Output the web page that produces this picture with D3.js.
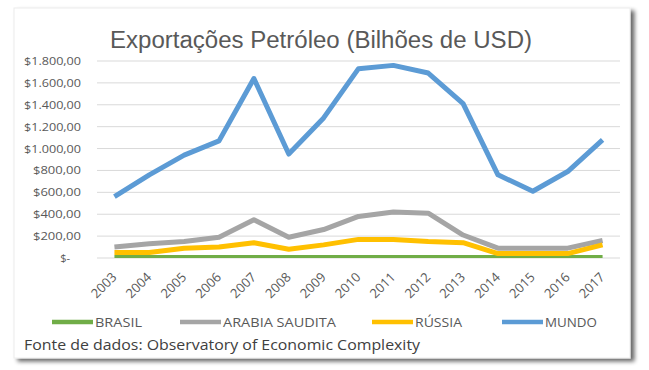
<!DOCTYPE html>
<html>
<head>
<meta charset="utf-8">
<script src="https://cdn.jsdelivr.net/npm/d3@7"></script>
<style>
  body { margin: 0; background: #fff; }
  svg { display: block; }
  text { font-family: "Open Sans", sans-serif; fill: #595959; }
</style>
</head>
<body>
<script>
const anos = ['2003','2004','2005','2006','2007','2008','2009','2010','2011','2012','2013','2014','2015','2016','2017'];
const brasil = [5, 6, 7, 8, 9, 10, 9, 13, 17, 19, 18, 16, 13, 14, 17];
const arabia = [100, 130, 150, 190, 350, 190, 260, 380, 420, 410, 210, 90, 90, 90, 160];
const russia = [50, 50, 90, 100, 140, 80, 120, 170, 170, 150, 140, 40, 40, 40, 120];
const mundo = [560, 760, 940, 1070, 1640, 950, 1280, 1730, 1760, 1690, 1410, 760, 610, 790, 1080];
const yTicks = [0, 200, 400, 600, 800, 1000, 1200, 1400, 1600, 1800];

const series = [
  {nome: 'BRASIL', valores: brasil, cor: '#70ad47'},
  {nome: 'ARABIA SAUDITA', valores: arabia, cor: '#a5a5a5'},
  {nome: 'RÚSSIA', valores: russia, cor: '#ffc000'},
  {nome: 'MUNDO', valores: mundo, cor: '#5b9bd5'}
];

const width = 649, height = 370;
const svg = d3.select('body').append('svg').attr('width', width).attr('height', height);

const defs = svg.append('defs');
const shadow = defs.append('filter').attr('id', 'sombra').attr('x', '-5%').attr('y', '-5%').attr('width', '115%').attr('height', '115%');
shadow.append('feGaussianBlur').attr('in', 'SourceAlpha').attr('stdDeviation', 2);
shadow.append('feOffset').attr('dx', 4).attr('dy', 3).attr('result', 'b');
shadow.append('feComponentTransfer').append('feFuncA').attr('type', 'linear').attr('slope', 0.6);
const m = shadow.append('feMerge');
m.append('feMergeNode');
m.append('feMergeNode').attr('in', 'SourceGraphic');

const soft = defs.append('filter').attr('id', 'suave');
soft.append('feGaussianBlur').attr('stdDeviation', 0.6);

// card
svg.append('rect')
  .attr('x', 14).attr('y', 8).attr('width', 616).attr('height', 350)
  .attr('fill', '#fff').attr('stroke', '#ececec').attr('stroke-width', 1)
  .attr('filter', 'url(#sombra)');

const plot = {left: 97, right: 620, top: 61, bottom: 258};

const x = d3.scaleBand().domain(anos).range([plot.left, plot.right]);
const y = d3.scaleLinear().domain([0, 1800]).range([plot.bottom, plot.top]);

// title
svg.append('text')
  .attr('x', 110).attr('y', 48)
  .style('font-family', '"Liberation Sans", sans-serif')
  .style('font-size', '23px')
  .attr('textLength', 422)
  .attr('lengthAdjust', 'spacingAndGlyphs')
  .text('Exportações Petróleo (Bilhões de USD)');

// grid
svg.append('g').selectAll('line')
  .data(yTicks)
  .join('line')
  .attr('x1', plot.left).attr('x2', plot.right)
  .attr('y1', d => y(d)).attr('y2', d => y(d))
  .attr('stroke', '#d9d9d9').attr('stroke-width', 1);

// y labels
const fmt = v => v === 0 ? '$-' : '$' + d3.format(',.2f')(v).replace(/,/g, 'X').replace('.', ',').replace(/X/g, '.');
const yl = svg.append('g').selectAll('text')
  .data(yTicks)
  .join('text')
  .attr('x', d => d === 0 ? 70 : 81)
  .attr('y', d => y(d) + 4)
  .attr('text-anchor', 'end')
  .style('font-size', '11px')
  .text(fmt);
yl.filter(d => d >= 1000).attr('textLength', 57).attr('lengthAdjust', 'spacingAndGlyphs');
yl.filter(d => d > 0 && d < 1000).attr('textLength', 48).attr('lengthAdjust', 'spacingAndGlyphs');

// x labels
svg.append('g').selectAll('text')
  .data(anos)
  .join('text')
  .attr('text-anchor', 'end')
  .attr('transform', d => 'translate(' + (x(d) + x.bandwidth() / 2 + 3) + ',278) rotate(-45)')
  .style('font-size', '13px')
  .text(d => d);

// lines
const line = d3.line()
  .x((d, i) => x(anos[i]) + x.bandwidth() / 2)
  .y(d => y(d));

svg.append('g').selectAll('path')
  .data(series)
  .join('path')
  .attr('d', s => line(s.valores))
  .attr('fill', 'none')
  .attr('stroke', s => s.cor)
  .attr('stroke-width', 5)
  .attr('stroke-linejoin', 'round')
  .attr('filter', 'url(#suave)');

// legend
const legX = [52, 180, 372, 502];
const legW = [47, 113, 47, 52];
const leg = svg.append('g').selectAll('g')
  .data(series)
  .join('g')
  .attr('transform', (s, i) => 'translate(' + legX[i] + ',322)');
leg.append('line')
  .attr('x1', 0).attr('x2', 41).attr('y1', 0).attr('y2', 0)
  .attr('stroke', s => s.cor).attr('stroke-width', 4.5);
leg.append('text')
  .attr('x', 43).attr('y', 5)
  .style('font-size', '13px')
  .attr('textLength', (s, i) => legW[i])
  .attr('lengthAdjust', 'spacingAndGlyphs')
  .text(s => s.nome);

// fonte
svg.append('text')
  .attr('x', 24).attr('y', 350)
  .style('font-size', '15px')
  .style('fill', '#404040')
  .attr('textLength', 396)
  .attr('lengthAdjust', 'spacingAndGlyphs')
  .text('Fonte de dados: Observatory of Economic Complexity');
</script>
</body>
</html>
